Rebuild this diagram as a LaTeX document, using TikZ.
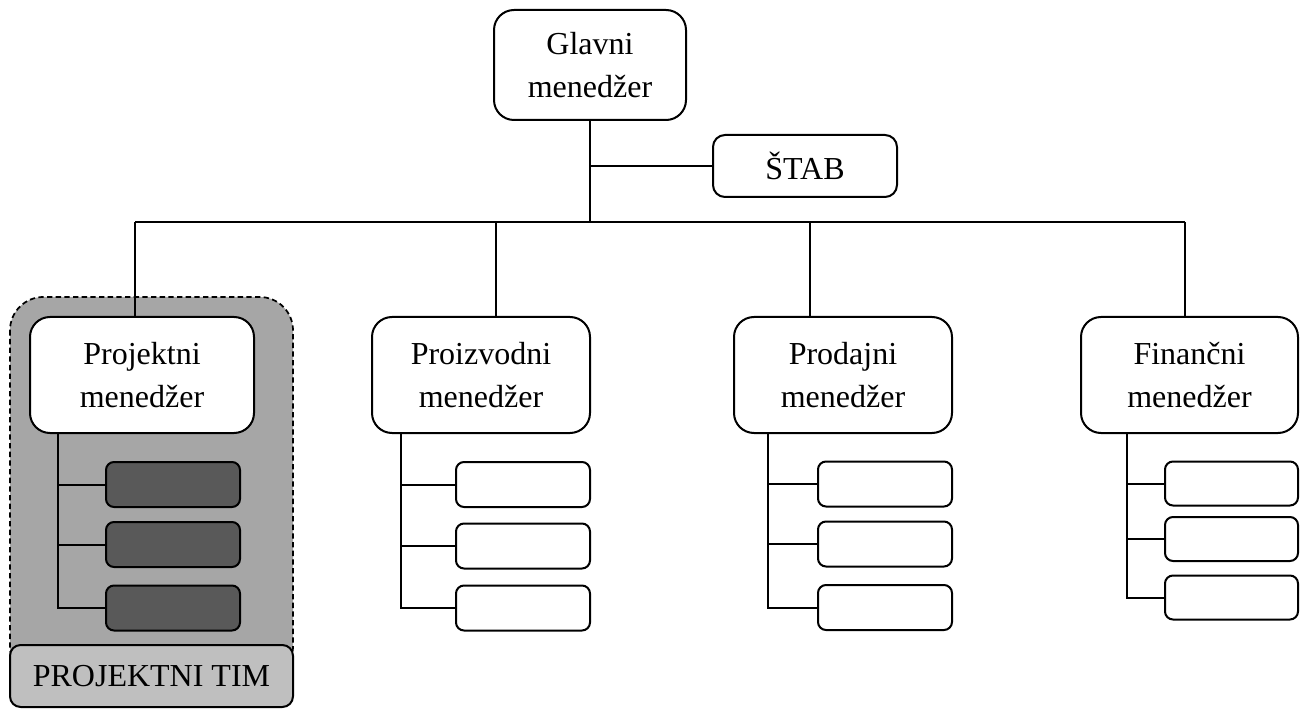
\documentclass[tikz,border=0pt]{standalone}
\usepackage{fontspec}
\setmainfont{Liberation Serif}
\definecolor{teamgray}{HTML}{A6A6A6}
\definecolor{subgray}{HTML}{595959}
\definecolor{labelgray}{HTML}{BFBFBF}
\begin{document}
\begin{tikzpicture}[x=0.75pt,y=-0.75pt,
  line width=1.5pt,
  every node/.style={inner sep=0pt, outer sep=0pt},
  size/.style 2 args={minimum width=#1*0.75pt, minimum height=#2*0.75pt},
  mgr/.style={draw, fill=white, rounded corners=15pt, align=center,
    font=\fontsize{24pt}{32pt}\selectfont, size={218}{116}},
  sub/.style={draw, fill=white, rounded corners=6pt, size={134}{45}},
  teamsub/.style={sub, fill=subgray},
  link/.style={draw, line width=1.5pt}]

\useasboundingbox (0,0) rectangle (1307,709);

% project team area
\path[draw, line width=1.3pt, dash pattern=on 4pt off 2.5pt, fill=teamgray, rounded corners=25pt]
  (10,297) rectangle (293,680);
\node[draw, fill=labelgray, rounded corners=8pt, size={283}{62},
  font=\fontsize{24pt}{32pt}\selectfont] (tim) at (151.5,676) {PROJEKTNI TIM};

% top level
\node[mgr, size={192}{110}] (glavni) at (590,65) {Glavni\\menedžer};
\node[mgr, rounded corners=9pt, size={184}{62}] (stab) at (805,166) {ŠTAB};

% department managers
\node[mgr, size={224}{116}] (projektni) at (142,375) {Projektni\\menedžer};
\node[mgr] (proizvodni) at (481,375) {Proizvodni\\menedžer};
\node[mgr] (prodajni) at (843,375) {Prodajni\\menedžer};
\node[mgr, size={217}{116}] (financni) at (1189.5,375) {Finančni\\menedžer};

% bus drop points
\coordinate (dA) at (135,222);
\coordinate (dB) at (496,222);
\coordinate (dC) at (810,222);
\coordinate (dD) at (1185,222);

% team members
\node[teamsub] (a1) at (173,484.5) {};
\node[teamsub] (a2) at (173,544.5) {};
\node[teamsub] (a3) at (173,608) {};
\node[sub] (b1) at (523,484.5) {};
\node[sub] (b2) at (523,546) {};
\node[sub] (b3) at (523,608) {};
\node[sub] (c1) at (885,484) {};
\node[sub] (c2) at (885,544) {};
\node[sub] (c3) at (885,607.5) {};
\node[sub, size={133}{44}] (d1) at (1231.5,483.5) {};
\node[sub, size={133}{44}] (d2) at (1231.5,539) {};
\node[sub, size={133}{44}] (d3) at (1231.5,597.5) {};

% spine positions
\coordinate (sA) at (58,0);
\coordinate (sB) at (401,0);
\coordinate (sC) at (768,0);
\coordinate (sD) at (1127,0);

% top connectors
\draw[link] (glavni.south) -- (glavni.south |- dA);
\draw[link] (glavni.south |- stab.west) -- (stab.west);
\draw[link] (dA) -- (dD);
\draw[link] (dA) -- (dA |- projektni.north);
\draw[link] (dB) -- (dB |- proizvodni.north);
\draw[link] (dC) -- (dC |- prodajni.north);
\draw[link] (dD) -- (dD |- financni.north);

% subordinate connectors
\foreach \m/\s/\k in {projektni/sA/a, proizvodni/sB/b, prodajni/sC/c, financni/sD/d} {
  \draw[link] (\s |- \m.south) |- (\k3.west);
  \draw[link] (\s |- \k1.west) -- (\k1.west);
  \draw[link] (\s |- \k2.west) -- (\k2.west);
}
\end{tikzpicture}
\end{document}
